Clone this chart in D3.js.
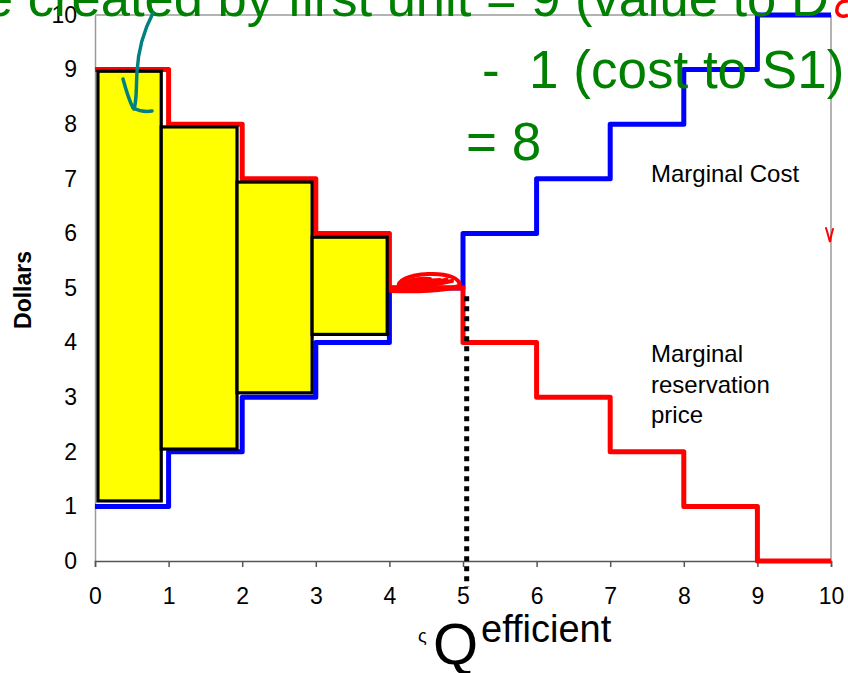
<!DOCTYPE html>
<html>
<head>
<meta charset="utf-8">
<script src="https://cdn.jsdelivr.net/npm/d3@7"></script>
<style>
  html, body { margin: 0; padding: 0; background: #fff; }
  svg { display: block; font-family: "Liberation Sans", Arial, sans-serif; }
</style>
</head>
<body>
<svg id="chart" width="848" height="673"></svg>
<script>
// Units traded (x) and per-unit dollar values
const units = [0, 1, 2, 3, 4, 5, 6, 7, 8, 9];
const marginalCost = [1, 2, 3, 4, 5, 6, 7, 8, 9, 10];
const reservationPrice = [9, 8, 7, 6, 5, 4, 3, 2, 1, 0];

// Surplus blocks for the first four units (left edge, right edge, bottom, top)
const surplusX0 = [0.04, 0.9, 1.93, 2.95];
const surplusX1 = [0.9, 1.93, 2.95, 3.97];
const surplusLow = [1.1, 2.05, 3.08, 4.15];
const surplusHigh = [8.97, 7.95, 6.94, 5.93];

const xTicks = [0, 1, 2, 3, 4, 5, 6, 7, 8, 9, 10];
const yTicks = [0, 1, 2, 3, 4, 5, 6, 7, 8, 9, 10];

// Efficient quantity marker (dotted drop line)
const qEfficient = 5.05;
const qLineTop = 4.85;
const qLineBottom = -0.47;

const svg = d3.select("#chart");
const x = d3.scaleLinear().domain([0, 10]).range([95, 831]);
const y = d3.scaleLinear().domain([0, 10]).range([561, 15]);

// Plot frame (top and right)
svg.append("line").attr("x1", x(0)).attr("x2", x(10)).attr("y1", y(10)).attr("y2", y(10))
  .attr("stroke", "#9a9a9a").attr("stroke-width", 1.5);
svg.append("line").attr("x1", x(10)).attr("x2", x(10)).attr("y1", y(10)).attr("y2", y(0))
  .attr("stroke", "#9a9a9a").attr("stroke-width", 1.5);

// Y axis
const yAxis = svg.append("g").attr("transform", `translate(${x(0)},0)`)
  .call(d3.axisLeft(y).tickValues(yTicks).tickSize(0).tickPadding(18).tickFormat(d3.format("d")));
yAxis.select(".domain").attr("stroke", "#9a9a9a").attr("stroke-width", 1.5);
yAxis.selectAll("text").attr("font-size", 23).attr("fill", "#000")
  .attr("font-family", "'Liberation Sans', Arial, sans-serif");

// X axis
const xAxis = svg.append("g").attr("transform", `translate(0,${y(0)})`)
  .call(d3.axisBottom(x).tickValues(xTicks).tickSize(6).tickPadding(21).tickFormat(d3.format("d")));
xAxis.select(".domain").attr("stroke", "#555").attr("stroke-width", 1.5);
xAxis.selectAll("line").attr("stroke", "#555").attr("stroke-width", 1.5);
xAxis.selectAll("text").attr("font-size", 23).attr("fill", "#000")
  .attr("font-family", "'Liberation Sans', Arial, sans-serif");

// Step curves: each unit's value held over [i, i+1]
const stepPoints = vals => units.map((u, i) => [u, vals[i]]).concat([[units[units.length - 1] + 1, vals[vals.length - 1]]]);
const stepLine = d3.line().x(d => x(d[0])).y(d => y(d[1])).curve(d3.curveStepAfter);

svg.append("path").attr("d", stepLine(stepPoints(marginalCost)))
  .attr("fill", "none").attr("stroke", "#0000ff").attr("stroke-width", 5).attr("stroke-linejoin", "round");
svg.append("path").attr("d", stepLine(stepPoints(reservationPrice)))
  .attr("fill", "none").attr("stroke", "#ff0000").attr("stroke-width", 5).attr("stroke-linejoin", "round");

// Surplus blocks
svg.append("g").selectAll("rect").data(surplusX0).join("rect")
  .attr("x", (d, i) => x(surplusX0[i]))
  .attr("width", (d, i) => x(surplusX1[i]) - x(surplusX0[i]))
  .attr("y", (d, i) => y(surplusHigh[i]))
  .attr("height", (d, i) => y(surplusLow[i]) - y(surplusHigh[i]))
  .attr("fill", "#ffff00").attr("stroke", "#000").attr("stroke-width", 3.2);

// Dotted line down to the efficient quantity
svg.append("line")
  .attr("x1", x(qEfficient)).attr("x2", x(qEfficient))
  .attr("y1", y(qLineTop)).attr("y2", y(qLineBottom))
  .attr("stroke", "#000").attr("stroke-width", 5).attr("stroke-dasharray", "5,5");

// Curve labels
svg.append("text").attr("x", 651).attr("y", 182).attr("font-size", 24).text("Marginal Cost");
const mrp = svg.append("text").attr("x", 651).attr("y", 362).attr("font-size", 24);
["Marginal", "reservation", "price"].forEach((t, i) => {
  mrp.append("tspan").attr("x", 651).attr("dy", i === 0 ? 0 : 30.5).text(t);
});

// Y axis title
svg.append("text").attr("transform", "translate(31,290) rotate(-90)")
  .attr("text-anchor", "middle").attr("font-size", 23).attr("font-weight", "bold").text("Dollars");

// X axis title: Q with superscript
svg.append("text").attr("x", 418).attr("y", 642).attr("font-size", 18).text("ς");
svg.append("text").attr("x", 433).attr("y", 664).attr("font-size", 58).text("Q");
svg.append("text").attr("x", 481).attr("y", 642).attr("font-size", 38).text("efficient");

// Handwritten notes
const green = "#008000";
svg.append("text").attr("x", -16).attr("y", 16).attr("font-size", 52.5).attr("fill", green)
  .text("e created by first unit = 9 (value to D");
svg.append("text").attr("x", 482).attr("y", 88).attr("font-size", 53).attr("fill", green)
  .style("white-space", "pre").text("-  1 (cost to S1)");
svg.append("text").attr("x", 466).attr("y", 160).attr("font-size", 53).attr("fill", green)
  .text("= 8");

// Ink strokes
svg.append("path")
  .attr("d", "M848,1 C840,0 836,6 837,12 C839,17 844,17 848,15")
  .attr("fill", "none").attr("stroke", "#ff0000").attr("stroke-width", 3.5);
svg.append("path")
  .attr("d", "M153,13 C144,30 138,52 137,72 C136,88 137,100 134,109")
  .attr("fill", "none").attr("stroke", "#008080").attr("stroke-width", 3.5).attr("stroke-linecap", "round");
svg.append("path")
  .attr("d", "M123,79 C126,90 129,100 133,108 C139,111 146,112 152,111")
  .attr("fill", "none").attr("stroke", "#008080").attr("stroke-width", 3.5).attr("stroke-linecap", "round").attr("stroke-linejoin", "round");
const scribble = svg.append("g").attr("fill", "none").attr("stroke", "#ff0000")
  .attr("stroke-linecap", "round").attr("stroke-linejoin", "round");
scribble.append("path").attr("stroke-width", 4)
  .attr("d", "M391,291 C415,292 445,291 459,286 C462,279 448,273 428,274 C408,275 397,281 399,287 C410,291 430,285 452,281");
scribble.append("path").attr("stroke-width", 4)
  .attr("d", "M398,289 C404,281 416,278 430,279 C420,283 408,286 400,288 C412,284 426,280 440,280");
scribble.append("path").attr("stroke-width", 3)
  .attr("d", "M402,283 C414,286 432,284 447,279");
svg.append("path")
  .attr("d", "M826,228 C828,234 829,239 830,242 C831,236 832,232 833,229")
  .attr("fill", "none").attr("stroke", "#ff0000").attr("stroke-width", 2).attr("stroke-linecap", "round");
</script>
</body>
</html>
